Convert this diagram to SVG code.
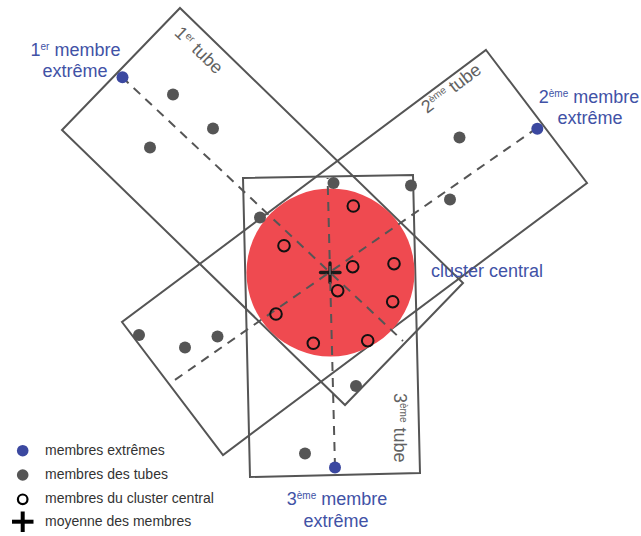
<svg xmlns="http://www.w3.org/2000/svg" width="641" height="536" viewBox="0 0 641 536">
<style>
.tube{fill:none;stroke:#555;stroke-width:2;stroke-linejoin:miter}
.axis{fill:none;stroke:#555;stroke-width:2;stroke-dasharray:9 7}
.ext{fill:#3B48A0}
.mem{fill:#555}
.clu{fill:none;stroke:#111;stroke-width:2}
.cross{stroke:#1a1a1a;stroke-width:3.3;stroke-linecap:round}
.lbl{font-family:"Liberation Sans",Arial,sans-serif;font-size:18px;fill:#4152A6}
.tlbl{font-family:"Liberation Sans",Arial,sans-serif;font-size:18px;fill:#626262}
.leg{font-family:"Liberation Sans",Arial,sans-serif;font-size:14px;fill:#333}
.sup{font-size:10px}
</style>
<rect width="641" height="536" fill="#fff"/>
<g id="tube1"><polygon class="tube" points="180,8 463,283 345,405 62,130"/></g>
<g id="tube2"><polygon class="tube" points="486,50 587,183 223,455 122,322"/></g>
<g id="tube3"><polygon class="tube" points="243,178 413,175 420,473 250,477"/></g>
<g id="cluster"><circle cx="330.5" cy="272.5" r="84" fill="#EF4A50"/></g>
<g id="mean"><line class="cross" x1="320.5" y1="272.5" x2="340" y2="272.5"/><line class="cross" x1="330" y1="263" x2="330" y2="282.5"/></g>
<g id="connectors">
<line class="axis" x1="122" y1="77" x2="403" y2="341"/>
<line class="axis" x1="537" y1="128" x2="169" y2="384"/>
<line class="axis" x1="335" y1="467" x2="327.6" y2="178"/>
</g>
<g id="tube-members">
<circle class="mem" cx="173" cy="94.5" r="6"/>
<circle class="mem" cx="213" cy="128.5" r="6"/>
<circle class="mem" cx="150" cy="147.5" r="6"/>
<circle class="mem" cx="260" cy="217.5" r="6"/>
<circle class="mem" cx="333.5" cy="183" r="6"/>
<circle class="mem" cx="411" cy="185.5" r="6"/>
<circle class="mem" cx="450" cy="199.5" r="6"/>
<circle class="mem" cx="459.5" cy="137.5" r="6"/>
<circle class="mem" cx="139" cy="335" r="6"/>
<circle class="mem" cx="185" cy="347.5" r="6"/>
<circle class="mem" cx="217.5" cy="336.5" r="6"/>
<circle class="mem" cx="356" cy="386" r="6"/>
<circle class="mem" cx="305" cy="453.5" r="6"/>
</g>
<g id="extreme-members">
<circle class="ext" cx="122.5" cy="77.3" r="6"/>
<circle class="ext" cx="537.3" cy="128.7" r="6"/>
<circle class="ext" cx="335" cy="467.5" r="6"/>
</g>
<g id="cluster-members">
<circle class="clu" cx="353.3" cy="206" r="5.8"/>
<circle class="clu" cx="284" cy="245.7" r="5.8"/>
<circle class="clu" cx="352.7" cy="266.7" r="5.8"/>
<circle class="clu" cx="394" cy="263.7" r="5.8"/>
<circle class="clu" cx="337.7" cy="290.7" r="5.8"/>
<circle class="clu" cx="392.7" cy="301.7" r="5.8"/>
<circle class="clu" cx="276" cy="314" r="5.8"/>
<circle class="clu" cx="313.3" cy="343.3" r="5.8"/>
<circle class="clu" cx="367.7" cy="340.7" r="5.8"/>
</g>
<g id="labels">
<text class="lbl" text-anchor="middle" x="75.5" y="56">1<tspan class="sup" dy="-6">er</tspan><tspan dy="6"> membre</tspan></text>
<text class="lbl" text-anchor="middle" x="75" y="77">extrême</text>
<text class="lbl" text-anchor="middle" x="589" y="103">2<tspan class="sup" dy="-6">ème</tspan><tspan dy="6"> membre</tspan></text>
<text class="lbl" text-anchor="middle" x="590" y="124">extrême</text>
<text class="lbl" text-anchor="middle" x="337" y="505">3<tspan class="sup" dy="-6">ème</tspan><tspan dy="6"> membre</tspan></text>
<text class="lbl" text-anchor="middle" x="336" y="527">extrême</text>
<text class="lbl" x="431" y="277">cluster central</text>
<text class="tlbl" transform="translate(173.5,34) rotate(44)">1<tspan class="sup" dy="-6">er</tspan><tspan dy="6"> tube</tspan></text>
<text class="tlbl" transform="translate(427,114) rotate(-37)">2<tspan class="sup" dy="-6">ème</tspan><tspan dy="6"> tube</tspan></text>
<text class="tlbl" transform="translate(394,393) rotate(90)">3<tspan class="sup" dy="-6">ème</tspan><tspan dy="6"> tube</tspan></text>
</g>
<g id="legend">
<circle class="ext" cx="22.7" cy="450.7" r="5.8"/>
<circle class="mem" cx="22.7" cy="475" r="5.8"/>
<circle cx="22.7" cy="499.3" r="4.8" fill="none" stroke="#000" stroke-width="2.2"/>
<line x1="12" y1="521.7" x2="33.5" y2="521.7" stroke="#000" stroke-width="4"/>
<line x1="22.7" y1="511.5" x2="22.7" y2="532" stroke="#000" stroke-width="4"/>
<text class="leg" x="45" y="455">membres extrêmes</text>
<text class="leg" x="45" y="478.5">membres des tubes</text>
<text class="leg" x="45" y="502.5">membres du cluster central</text>
<text class="leg" x="45" y="526">moyenne des membres</text>
</g>
</svg>
